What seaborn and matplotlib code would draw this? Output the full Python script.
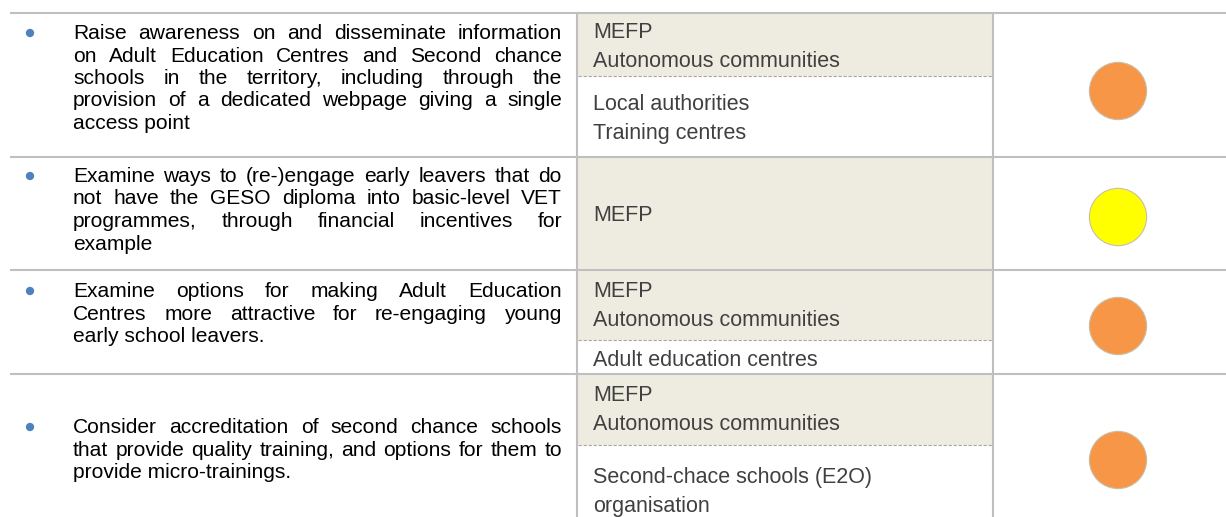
import matplotlib
matplotlib.use("Agg")
import matplotlib.pyplot as plt
from matplotlib.patches import Rectangle
import seaborn as sns
import pandas as pd

# ---------------- data ----------------
actions = [
    "Raise awareness on and disseminate information\non Adult Education Centres and Second chance\n"
    "schools in the territory, including through the\nprovision of a dedicated webpage giving a single\naccess point",
    "Examine ways to (re-)engage early leavers that do\nnot have the GESO diploma into basic-level VET\n"
    "programmes, through financial incentives for\nexample",
    "Examine options for making Adult Education\nCentres more attractive for re-engaging young\n"
    "early school leavers.",
    "Consider accreditation of second chance schools\nthat provide quality training, and options for them to\n"
    "provide micro-trainings.",
]
lead_actors = [
    "MEFP\nAutonomous communities",
    "MEFP",
    "MEFP\nAutonomous communities",
    "MEFP\nAutonomous communities",
]
partners = [
    "Local authorities\nTraining centres",
    "",
    "Adult education centres",
    "Second-chace schools (E2O)\norganisation",
]
status = ["Partial", "Limited", "Partial", "Partial"]
status_palette = {"Partial": "#F79646", "Limited": "#FFFF00"}

# ---------------- layout (pixels) ----------------
W, H = 1226, 517
row_top = [13, 157, 270, 374]
row_bot = [157, 270, 374, 530]
split_y = [76, None, 340, 445]
action_first_baseline = [39, 182, 297, 433]
lead_first_baseline = [38, 221, 297, 401]
partner_first_baseline = [110, None, 366, 483]
circle_y = [91, 217, 326, 460]
x_line0, x_col1, x_col2 = 10, 577, 993
text_x0, text_x1 = 73, 562
bullet_x = 30
resp_x = 593
circle_x = 1118
left_ls, right_ls = 22.5, 29.0
FS_L, FS_R = 15.1, 15.5
GRID = "#BFBFBF"
SHADE = "#EEECE1"

sns.set_theme(style="white")
plt.rcParams['font.family'] = ['Liberation Sans', 'DejaVu Sans']

fig = plt.figure(figsize=(W / 100, H / 100), dpi=100)
ax = fig.add_axes([0, 0, 1, 1])
ax.set_xlim(0, W)
ax.set_ylim(H, 0)
ax.axis("off")

fig.canvas.draw()
renderer = fig.canvas.get_renderer()


def text_width(s, fs):
    t = ax.text(0, 0, s, fontsize=fs)
    w = t.get_window_extent(renderer).width
    t.remove()
    return w


def draw_justified(paragraph, y0):
    lines = paragraph.split("\n")
    for i, line in enumerate(lines):
        y = y0 + i * left_ls
        words = line.split()
        if i == len(lines) - 1 or len(words) < 2:
            ax.text(text_x0, y, line, fontsize=FS_L, color="black", va="baseline", ha="left")
            continue
        widths = [text_width(w, FS_L) for w in words]
        gap = (text_x1 - text_x0 - sum(widths)) / (len(words) - 1)
        x = text_x0
        for w, ww in zip(words, widths):
            ax.text(x, y, w, fontsize=FS_L, color="black", va="baseline", ha="left")
            x += ww + gap


# shading of lead actors cells
for i in range(len(actions)):
    bottom = split_y[i] if split_y[i] is not None else row_bot[i]
    ax.add_patch(Rectangle((x_col1 + 1, row_top[i] + 1), x_col2 - x_col1 - 2,
                           bottom - row_top[i] - 1, facecolor=SHADE, edgecolor="none", zorder=0))
    if split_y[i] is not None:
        ax.plot([x_col1 + 1, x_col2 - 1], [split_y[i], split_y[i]], color="#A6A6A6",
                lw=0.8, ls=(0, (3, 1.5)), zorder=1)

# grid lines
for y in row_top:
    ax.plot([x_line0, W], [y, y], color=GRID, lw=1.5, zorder=2, solid_capstyle="butt")
for x in (x_col1, x_col2):
    ax.plot([x, x], [row_top[0], H], color=GRID, lw=1.5, zorder=2, solid_capstyle="butt")

# texts
for i in range(len(actions)):
    draw_justified(actions[i], action_first_baseline[i])
    for j, line in enumerate(lead_actors[i].split("\n")):
        ax.text(resp_x, lead_first_baseline[i] + j * right_ls, line, fontsize=FS_R,
                color="#404040", va="baseline")
    if partners[i]:
        for j, line in enumerate(partners[i].split("\n")):
            ax.text(resp_x, partner_first_baseline[i] + j * right_ls, line, fontsize=FS_R,
                    color="#404040", va="baseline")

# bullets
bullets = pd.DataFrame({"x": [bullet_x] * len(actions),
                        "y": [b - 6 for b in action_first_baseline]})
sns.scatterplot(data=bullets, x="x", y="y", ax=ax, color="#4F81BD", s=36,
                edgecolor="none", legend=False, zorder=3)

# status circles
circles = pd.DataFrame({"x": [circle_x] * len(status), "y": circle_y, "status": status})
sns.scatterplot(data=circles, x="x", y="y", hue="status", palette=status_palette, ax=ax,
                s=1700, edgecolor="#C8BFA8", linewidth=0.8, legend=False, zorder=3)

ax.set_xlim(0, W)
ax.set_ylim(H, 0)
ax.axis("off")
fig.savefig("out.png", dpi=100)
